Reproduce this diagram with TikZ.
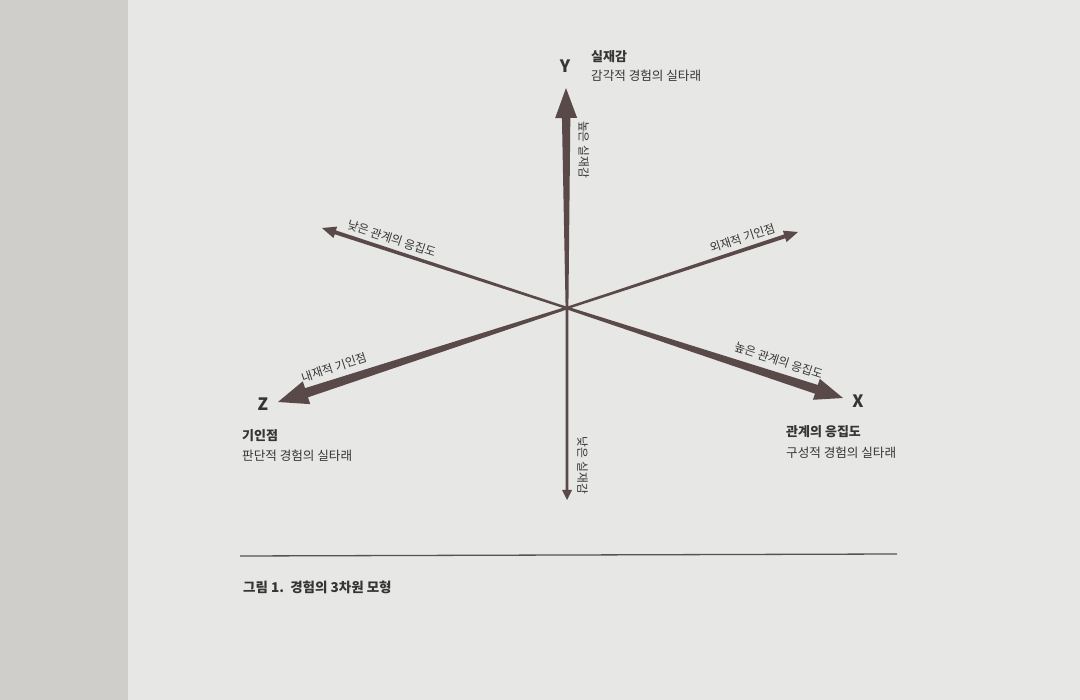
\documentclass[tikz,border=0pt]{standalone}
\usepackage{fontspec}
\setmainfont{Noto Sans CJK KR}
\usetikzlibrary{calc}

\definecolor{axiscol}{HTML}{5A4949}
\definecolor{inkcol}{HTML}{353535}
\definecolor{pagecol}{HTML}{E7E7E5}
\definecolor{spinecol}{HTML}{CFCECB}

\begin{document}
\begin{tikzpicture}[x=1pt, y=-1pt,
    axislabel/.style={font=\fontsize{11.8}{13}\selectfont, text=inkcol, inner sep=1pt},
    letter/.style={font=\fontsize{17}{19}\selectfont\bfseries, text=inkcol, inner sep=0pt},
    heading/.style={font=\fontsize{13}{15}\selectfont\bfseries, text=inkcol, anchor=west, inner sep=0pt},
    subheading/.style={font=\fontsize{12.6}{14}\selectfont, text=inkcol, anchor=west, inner sep=0pt}]

    \fill[pagecol] (0,0) rectangle (1080,700);
    \fill[spinecol] (0,0) rectangle (128,700);

    \coordinate (o) at (567,308);
    \coordinate (ytip) at (566,88);
    \coordinate (ybot) at (567,500);
    \coordinate (ul) at (322,228);
    \coordinate (ur) at (798,232);
    \coordinate (z) at (278,402);
    \coordinate (x) at (843,398);

    % tapered shafts with their heads
    \foreach \tip/\wa/\wb/\hl/\hw in {ytip/1.4/4.2/30/11, ybot/1.3/1.3/10/5, ul/1.2/2/14/6, ur/1.2/2/14/6, z/1.4/4.8/30/12, x/1.4/4.6/28/11}
        \fill[axiscol] ($(o)!\wa pt!90:(\tip)$) -- ($($(\tip)!\hl pt!(o)$)!\wb pt!-90:(o)$)
            -- ($($(\tip)!\hl pt!(o)$)!\hw pt!-90:(o)$) -- (\tip) -- ($($(\tip)!\hl pt!(o)$)!\hw pt!90:(o)$)
            -- ($($(\tip)!\hl pt!(o)$)!\wb pt!90:(o)$) -- ($(o)!\wa pt!-90:(\tip)$) -- cycle;

    \path (ytip) -- (o) node[axislabel, pos=0.28, sloped, above=11pt] (yhigh) {높은 실재감};
    \path (o) -- (ybot) node[axislabel, pos=0.82, sloped, above=9pt] (ylow) {낮은 실재감};
    \path (ul) -- (o) node[axislabel, pos=0.27, sloped, above=5pt] (xlow) {낮은 관계의 응집도};
    \path (o) -- (ur) node[axislabel, pos=0.775, sloped, above=5pt] (zout) {외재적 기인점};
    \path (z) -- (o) node[axislabel, pos=0.21, sloped, above=9pt] (zin) {내재적 기인점};
    \path (o) -- (x) node[axislabel, pos=0.75, sloped, above=9pt] (xhigh) {높은 관계의 응집도};

    \node[letter] (ylet) at (565,66) {Y};
    \node[letter] (zlet) at (263,404) {Z};
    \node[letter] (xlet) at (858,401) {X};

    \node[heading] (ytitle) at (591,57) {실재감};
    \node[subheading] (ysub) at (591,76) {감각적 경험의 실타래};
    \node[heading] (ztitle) at (242,436) {기인점};
    \node[subheading] (zsub) at (242,456) {판단적 경험의 실타래};
    \node[heading] (xtitle) at (786,432) {관계의 응집도};
    \node[subheading] (xsub) at (786,453) {구성적 경험의 실타래};

    \coordinate (rulestart) at (240,556);
    \coordinate (ruleend) at (897,554);
    \draw[inkcol!85, line width=1.3pt] (rulestart) -- (ruleend);
    \node[heading, font=\fontsize{13.5}{15}\selectfont\bfseries] (caption) at (243,587) {그림 1.\ \ 경험의 3차원 모형};

\end{tikzpicture}
\end{document}
